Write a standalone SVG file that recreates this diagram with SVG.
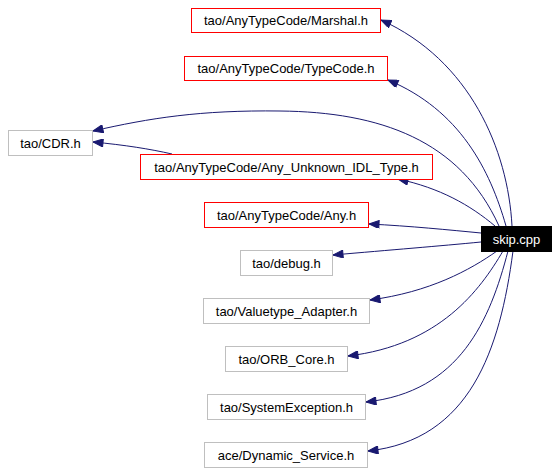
<svg xmlns="http://www.w3.org/2000/svg" width="557" height="472" viewBox="0 0 557 472">
<defs>
<marker id="ah" viewBox="0 0 10 8" refX="10" refY="4" markerWidth="12" markerHeight="8" markerUnits="userSpaceOnUse" orient="auto-start-reverse">
<path d="M0,0 L10,4 L0,8 Z" fill="#191970" stroke="#191970"/>
</marker>
</defs>
<style>
.n rect{fill:#ffffff;stroke:#bfbfbf;stroke-width:1}
.n.r rect{stroke:#ff0000}
.n.k rect{fill:#000000;stroke:#000000}
.n text{font-family:"Liberation Sans",Arial,sans-serif;font-size:13px;text-anchor:middle;fill:#000000}
.n.k text{fill:#ffffff}
.e path{fill:none;stroke:#191970;stroke-width:1;marker-end:url(#ah)}
</style>
<rect width="557" height="472" fill="#ffffff"/>
<g class="e" id="edges">
<path d="M512,226 C508,150 470,60 381,20"/>
<path d="M506,226 C490,170 460,110 388,80"/>
<path d="M499,226 C460,140 380,112 280,111 C200,110 150,118 93,131"/>
<path d="M172,154 C150,149 125,145 93,142"/>
<path d="M495,226 C470,205 440,188 398,179"/>
<path d="M481,233 C450,230 410,226 369,224"/>
<path d="M481,242 C440,246 390,250 333,255"/>
<path d="M497,251 C470,270 430,292 370,300"/>
<path d="M503,251 C480,290 440,345 348,356"/>
<path d="M508,251 C490,320 460,392 366,402"/>
<path d="M513,251 C500,350 470,440 368,451"/>
</g>
<g class="n r" id="marshal"><rect x="191.5" y="8.5" width="189" height="24"/><text x="286" y="25">tao/AnyTypeCode/Marshal.h</text></g>
<g class="n r" id="typecode"><rect x="184.5" y="56.5" width="203" height="24"/><text x="286" y="73">tao/AnyTypeCode/TypeCode.h</text></g>
<g class="n" id="cdr"><rect x="8.5" y="130.5" width="84" height="25"/><text x="50.5" y="148">tao/CDR.h</text></g>
<g class="n r" id="unknown"><rect x="140.5" y="154.5" width="292" height="25"/><text x="286.5" y="172">tao/AnyTypeCode/Any_Unknown_IDL_Type.h</text></g>
<g class="n r" id="any"><rect x="204.5" y="202.5" width="164" height="25"/><text x="286.5" y="220">tao/AnyTypeCode/Any.h</text></g>
<g class="n k" id="skip"><rect x="481.5" y="226.5" width="70" height="25"/><text x="516.5" y="244">skip.cpp</text></g>
<g class="n" id="debug"><rect x="240.5" y="250.5" width="92" height="25"/><text x="286.5" y="268">tao/debug.h</text></g>
<g class="n" id="valuetype"><rect x="203.5" y="298.5" width="166" height="25"/><text x="286.5" y="316">tao/Valuetype_Adapter.h</text></g>
<g class="n" id="orbcore"><rect x="225.5" y="346.5" width="122" height="25"/><text x="286.5" y="364">tao/ORB_Core.h</text></g>
<g class="n" id="sysexc"><rect x="207.5" y="394.5" width="158" height="25"/><text x="286.5" y="412">tao/SystemException.h</text></g>
<g class="n" id="dynsvc"><rect x="204.5" y="442.5" width="163" height="25"/><text x="286" y="460">ace/Dynamic_Service.h</text></g>
</svg>
